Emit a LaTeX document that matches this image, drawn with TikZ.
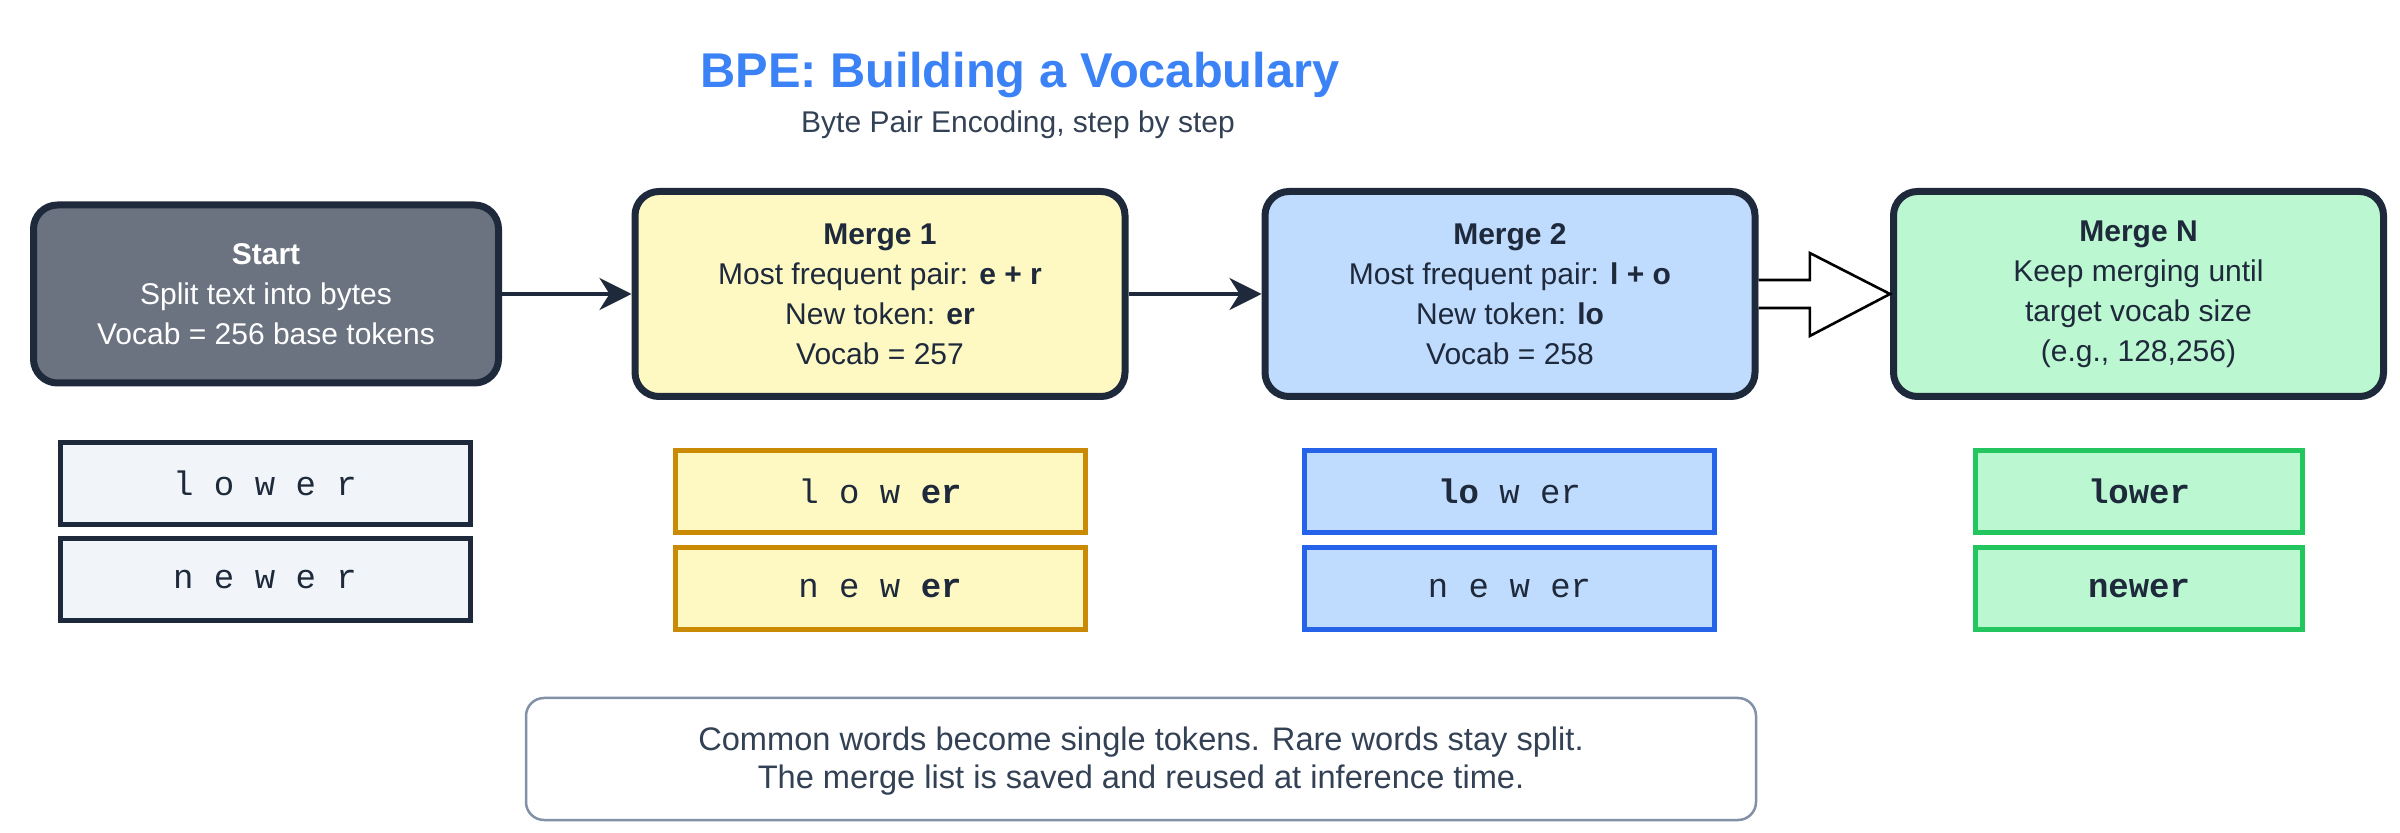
\documentclass[tikz,border=0pt]{standalone}
\usepackage{fontspec}
\setmainfont{Liberation Sans}
\setmonofont{Liberation Mono}
\usetikzlibrary{arrows.meta,calc}
\definecolor{ink}{HTML}{1E293B}
\definecolor{slate}{HTML}{334155}
\definecolor{titleblue}{HTML}{3B82F6}
\definecolor{startfill}{HTML}{6B7280}
\definecolor{yfill}{HTML}{FEF9C3}
\definecolor{yline}{HTML}{CA8A04}
\definecolor{bfill}{HTML}{BFDBFE}
\definecolor{bline}{HTML}{2563EB}
\definecolor{gfill}{HTML}{BBF7D0}
\definecolor{gline}{HTML}{22C55E}
\definecolor{tfill}{HTML}{F1F5F9}
\definecolor{noteline}{HTML}{8391A7}
\begin{document}
\begin{tikzpicture}[x=0.5pt,y=-0.5pt,
  stage/.style={draw=ink, line width=3.5pt, rounded corners=12pt, minimum width=245pt, minimum height=102.5pt, align=center, font=\fontsize{15}{20}\selectfont, text=ink, inner sep=0pt},
  startbox/.style={stage, fill=startfill, text=white, minimum width=232.5pt, minimum height=89pt},
  tok/.style={line width=2.5pt, minimum width=205pt, minimum height=41pt, font=\ttfamily\fontsize{17}{20}\selectfont, text=ink, inner sep=0pt},
  flow/.style={draw=ink, line width=2pt, -{Stealth[length=16pt,width=16pt,inset=5pt]}},
  hollow/.style={draw=black, line width=1.3pt, fill=white, line join=miter},
  notebox/.style={draw=noteline, line width=1.25pt, rounded corners=9pt, fill=white, minimum width=615pt, minimum height=61pt, align=center, font=\fontsize{16.3}{19}\selectfont, text=slate},
]
\useasboundingbox (0,0) rectangle (2400,833);

\node[font=\bfseries\fontsize{24.4}{28}\selectfont, text=titleblue] (title) at (1020,75) {BPE: Building a Vocabulary};
\node[font=\fontsize{15}{18}\selectfont, text=slate] (subtitle) at (1018,125) {Byte Pair Encoding, step by step};

\node[startbox] (start) at (266,294) {\textbf{Start}\\Split text into bytes\\Vocab = 256 base tokens};
\node[stage, fill=yfill] (m1) at (880,294) {\textbf{Merge 1}\\Most frequent pair: \textbf{e + r}\\New token: \textbf{er}\\Vocab = 257};
\node[stage, fill=bfill] (m2) at (1510,294) {\textbf{Merge 2}\\Most frequent pair: \textbf{l + o}\\New token: \textbf{lo}\\Vocab = 258};
\node[stage, fill=gfill] (mN) at (2138.5,294) {\textbf{Merge N}\\Keep merging until\\target vocab size\\(e.g., 128,256)};

\draw[flow] (start.east) -- (m1.west);
\draw[flow] (m1.east) -- (m2.west);
\draw[hollow] ($(m2.east)+(0,-14)$) -- ($(m2.east)!0.39!(mN.west)+(0,-14)$) -- ($(m2.east)!0.39!(mN.west)+(0,-41)$) -- (mN.west) -- ($(m2.east)!0.39!(mN.west)+(0,42)$) -- ($(m2.east)!0.39!(mN.west)+(0,14)$) -- ($(m2.east)+(0,14)$);

\node[tok, draw=ink, fill=tfill] (s1) at (265,483.5) {l o w e r};
\node[tok, draw=ink, fill=tfill] (s2) at (265,579.5) {n e w e r};
\node[tok, draw=yline, fill=yfill] (a1) at (880,491.5) {l o w \textbf{er}};
\node[tok, draw=yline, fill=yfill] (a2) at (880,588.5) {n e w \textbf{er}};
\node[tok, draw=bline, fill=bfill] (b1) at (1509.5,491.5) {\textbf{lo} w er};
\node[tok, draw=bline, fill=bfill] (b2) at (1509.5,588.5) {n e w er};
\node[tok, draw=gline, fill=gfill, minimum width=163.5pt] (g1) at (2139,491.5) {\textbf{lower}};
\node[tok, draw=gline, fill=gfill, minimum width=163.5pt] (g2) at (2139,588.5) {\textbf{newer}};

\node[notebox] (note) at (1141,759) {\rule{0pt}{14pt}Common words become single tokens. Rare words stay split.\\The merge list is saved and reused at inference time.};
\end{tikzpicture}
\end{document}
